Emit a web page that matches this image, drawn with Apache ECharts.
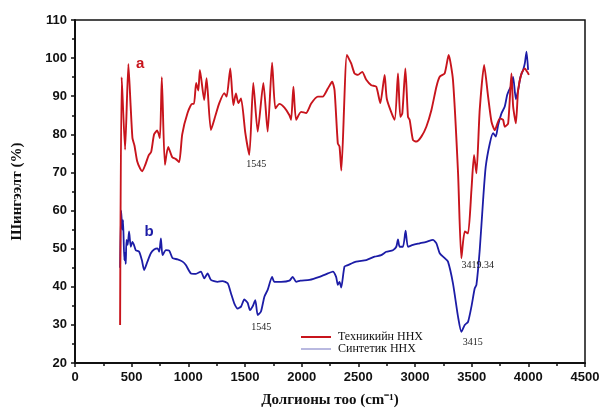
<!DOCTYPE html>
<html>
<head>
<meta charset="utf-8">
<script src="https://cdn.jsdelivr.net/npm/echarts@6/dist/echarts.min.js"></script>
<style>
html,body{margin:0;padding:0;background:#fff;}
#chart{width:603px;height:419px;}
</style>
</head>
<body>
<div id="chart"></div>
<script>
// Wavenumber (cm-1) and transmittance (%) for the technical sample (a)
const techX = [398,412,442,471,490,507,525,548,575,593,620,650,672,698,725,749,766,793,822,858,890,919,946,993,1034,1050,1069,1088,1102,1140,1161,1199,1240,1273,1317,1338,1370,1397,1420,1441,1465,1503,1538,1573,1612,1662,1700,1739,1768,1803,1848,1892,1907,1927,1951,1995,2039,2084,2142,2186,2231,2269,2290,2319,2334,2350,2399,2437,2466,2496,2534,2570,2614,2658,2694,2732,2752,2820,2850,2870,2888,2915,2938,2953,2982,3012,3056,3100,3145,3189,3218,3262,3297,3335,3380,3409,3439,3468,3498,3521,3542,3571,3610,3645,3675,3704,3748,3777,3792,3822,3851,3866,3890,3910,3940,3969,3990,4005];
const techY = [30,95,76,98.5,88,79,77,73,71,70.3,72,74.5,75.4,80,81,79,95,72,76.7,74,73.5,72.7,80,85.6,88,88,93.5,91.5,96.9,89,94.7,81.1,85,88.2,90.8,89.9,97.3,87.7,90.7,88.2,89.4,80.3,74.6,93.5,80.7,93.5,80.7,98.8,86.8,88,87,85,83.8,92.5,83.8,85.9,85.6,88.1,89.9,89.9,92,93.8,91.6,77.6,76.8,70.5,100.8,98.6,96,95.6,96.4,94.3,92.9,92.5,88.2,95.6,89.2,83.8,96,84.6,85.5,97.3,84.6,83.8,78.5,78.1,79.4,82,86.4,92.5,95.1,96,100.8,94.3,69.8,47.5,54.5,54,65.4,74.6,69.8,86.4,98.2,89.9,83.3,81.1,84.2,83.8,82,82.9,96,87.3,82.9,91.6,96,97.3,96.4,95.6];

// Wavenumber (cm-1) and transmittance (%) for the synthetic sample (b)
const synX = [398,407,418,424,435,442,448,454,465,477,492,507,520,536,566,590,610,639,669,698,728,743,758,772,802,831,861,905,949,978,1023,1067,1111,1140,1170,1199,1258,1302,1347,1376,1406,1435,1465,1494,1523,1544,1568,1591,1612,1641,1671,1700,1739,1759,1818,1892,1921,1951,1989,2069,2157,2231,2275,2304,2319,2334,2349,2378,2408,2481,2570,2643,2702,2747,2805,2835,2850,2864,2894,2917,2938,2982,3041,3100,3159,3189,3218,3262,3291,3335,3380,3409,3439,3468,3498,3527,3542,3571,3601,3624,3660,3689,3713,3733,3763,3792,3813,3830,3851,3866,3890,3910,3931,3954,3969,3984,3998];
const synY = [45,60,55,57.5,47,48.9,46,52.3,51,54.5,50.5,51.8,51,49.6,49.2,47,44.4,46.6,48.8,49.8,50.1,49.2,52.7,48.3,49.6,49.5,47.5,47.2,46.6,45.7,43.5,43.4,44,42.2,43.5,41.8,41.3,41.5,40.9,38.3,35.6,34.3,34.8,36.7,35.8,33.9,34.9,36.5,32.6,33.5,37.4,39.2,42.6,41.3,41.3,41.6,42.6,41.3,41.6,41.8,42.6,43.5,44,42.6,40.5,41.3,39.8,45.3,45.7,46.6,47,47.9,48.3,49.2,49.6,50.5,52.4,50.5,50.5,54.7,50.5,51,51.4,51.8,52.3,51.4,48.8,47.5,46.6,40.9,32.1,28.2,30,30.8,34.8,39.6,40.5,49.6,62.8,71.5,77.6,80.3,79.4,82.4,85.5,87.3,90.3,91.6,92.9,95.1,89.2,91.6,95.1,96.9,98.6,101.7,96.9];

const seriesNames = ['Техникийн ННХ', 'Синтетик ННХ'];
const xTicks = [0, 500, 1000, 1500, 2000, 2500, 3000, 3500, 4000, 4500];
const yTicks = [20, 30, 40, 50, 60, 70, 80, 90, 100, 110];

// Text annotations (label, wavenumber, transmittance)
const techNotes = [['a', 575, 98.5], ['1545', 1600, 72], ['3419.34', 3554, 45.7]];
const synNotes = [['b', 654, 54.4], ['1545', 1644, 29.4], ['3415', 3510, 25.5]];

const RED = '#c8141c';
const BLUE = '#1c1ca6';

function pairs(xs, ys) { return xs.map((x, i) => [x, ys[i]]); }

function notes(list, letterColor) {
  return list.map(n => {
    const isLetter = n[0].length === 1;
    return {
      coord: [n[1], n[2]],
      value: n[0],
      symbol: 'circle',
      symbolSize: 0,
      label: {
        show: true,
        position: 'inside',
        formatter: n[0],
        color: isLetter ? letterColor : '#222',
        fontFamily: isLetter ? 'Liberation Sans' : 'Liberation Serif',
        fontWeight: isLetter ? 'bold' : 'normal',
        fontSize: isLetter ? 15 : 10
      }
    };
  });
}

const chart = echarts.init(document.getElementById('chart'), null, { renderer: 'canvas' });

const axisLabelStyle = { color: '#111', fontFamily: 'Liberation Sans', fontWeight: 'bold', fontSize: 13, formatter: v => String(v) };

chart.setOption({
  animation: false,
  backgroundColor: '#fff',
  grid: { left: 75, right: 18, top: 20, bottom: 56, show: true, borderColor: '#111', borderWidth: 1.5, containLabel: false },
  legend: {
    left: 296,
    top: 326,
    orient: 'vertical',
    itemGap: 0,
    itemWidth: 30,
    itemHeight: 2,
    icon: 'rect',
    textStyle: { fontFamily: 'Liberation Serif', fontSize: 12, color: '#111', padding: [0, 0, 0, 2] },
    data: [
      { name: seriesNames[0], itemStyle: { color: RED } },
      { name: seriesNames[1], itemStyle: { color: '#b9b9e0' } }
    ]
  },
  xAxis: {
    type: 'value',
    min: xTicks[0],
    max: xTicks[xTicks.length - 1],
    interval: 500,
    name: 'Долгионы тоо (cm⁻¹)',
    nameLocation: 'middle',
    nameGap: 30,
    nameTextStyle: { fontFamily: 'Liberation Serif', fontWeight: 'bold', fontSize: 15, color: '#111' },
    axisLine: { show: true, onZero: false, lineStyle: { color: '#111', width: 2 } },
    axisTick: { show: true, inside: false, length: 4, lineStyle: { color: '#111', width: 1.5 } },
    minorTick: { show: true, splitNumber: 2, length: 3, lineStyle: { color: '#111', width: 1.5 } },
    splitLine: { show: false },
    axisLabel: Object.assign({ margin: 8 }, axisLabelStyle)
  },
  yAxis: {
    type: 'value',
    min: yTicks[0],
    max: yTicks[yTicks.length - 1],
    interval: 10,
    name: 'Шингээлт (%)',
    nameLocation: 'middle',
    nameGap: 50,
    nameTextStyle: { fontFamily: 'Liberation Serif', fontWeight: 'bold', fontSize: 15, color: '#111' },
    axisLine: { show: true, onZero: false, lineStyle: { color: '#111', width: 2 } },
    axisTick: { show: true, inside: false, length: 4, lineStyle: { color: '#111', width: 1.5 } },
    minorTick: { show: true, splitNumber: 2, length: 3, lineStyle: { color: '#111', width: 1.5 } },
    splitLine: { show: false },
    axisLabel: Object.assign({ margin: 8 }, axisLabelStyle)
  },
  series: [
    {
      name: seriesNames[0],
      type: 'line',
      data: pairs(techX, techY),
      showSymbol: false,
      symbol: 'none',
      smooth: 0.2,
      lineStyle: { color: RED, width: 1.9 },
      itemStyle: { color: RED },
      z: 3,
      markPoint: { silent: true, data: notes(techNotes, RED) }
    },
    {
      name: seriesNames[1],
      type: 'line',
      data: pairs(synX, synY),
      showSymbol: false,
      symbol: 'none',
      smooth: 0.2,
      lineStyle: { color: BLUE, width: 1.8 },
      itemStyle: { color: BLUE },
      z: 2,
      markPoint: { silent: true, data: notes(synNotes, BLUE) }
    }
  ]
});
</script>
</body>
</html>
